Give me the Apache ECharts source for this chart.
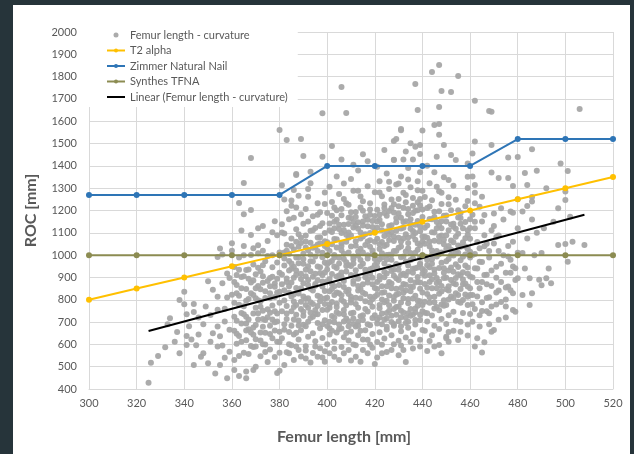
<!DOCTYPE html>
<html>
<head>
<meta charset="utf-8">
<script src="https://cdn.jsdelivr.net/npm/echarts@6/dist/echarts.min.js"></script>
<style>
  html, body { margin: 0; padding: 0; background: #26343a; }
  #panel { position: absolute; left: 13px; top: 5px; width: 617px; height: 449px; background: #fff; }
  #chart { position: absolute; left: 0; top: 0; width: 634px; height: 454px; }
</style>
</head>
<body>
<div id="panel"></div>
<div id="chart"></div>
<script>
// nail models, one value per femur length
const femurLength = [300, 320, 340, 360, 380, 400, 420, 440, 460, 480, 500, 520]
const t2Alpha = [800, 850, 900, 950, 1000, 1050, 1100, 1150, 1200, 1250, 1300, 1350]
const zimmerNail = [1270, 1270, 1270, 1270, 1270, 1400, 1400, 1400, 1400, 1520, 1520, 1520]
const synthesTfna = [1000, 1000, 1000, 1000, 1000, 1000, 1000, 1000, 1000, 1000, 1000, 1000]

// linear trend (ends)
const trendLength = [325, 508]
const trendRoc = [660, 1181]

// measured femurs [length, curvature]
const scatterPoints = [
  [325,428],[326,518],[329,548],[332,587],[334,717],[336,612],[338,799],[340,836],[340,780],[341,735],[344,781],[344,745],[341,637],[343,622],[346,644],[341,597],[344,508],[348,560],[347,545],[350,515],[353,470],[355,508],[354,590],[355,636],[354,680],[351,732],[354,755],[357,702],[354,814],[356,874],[358,918],[359,897],[358,448],[355,1030],[354,992],[333,690],[337,655],[348,690],[351,612],[346,720],[352,845],[349,770],[357,760],[357,540],[352,650],[356,595],[358,810],[342,681],[359,665],[356,1003],[350,883],[338,560],[345,596],
  [361,485],[361,530],[359,567],[363,458],[366,448],[366,478],[369,485],[370,500],[360,1020],[360,1053],[368,1090],[363,1234],[368,1202],[365,1323],[368,1435],
  [362,603],[363,637],[362,706],[364,741],[361,787],[363,818],[362,866],[364,902],[361,947],[363,989],
  [365,562],[366,619],[367,668],[366,724],[365,771],[367,803],[366,848],[368,877],[366,933],[365,1041],
  [368,593],[369,643],[370,687],[369,738],[370,764],[369,821],[371,862],[370,914],[369,958],[371,1008],
  [372,547],[373,601],[372,653],[374,709],[373,751],[372,793],[374,838],[373,876],[372,927],[374,972],[373,1131],
  [375,521],[376,577],[377,628],[376,683],[375,722],[377,774],[376,807],[378,858],[376,898],[377,946],[375,1063],
  [379,472],[378,543],[379,612],[380,657],[379,703],[378,748],[380,787],[379,832],[378,873],[380,921],[379,967],[380,1012],[378,1152],
  [361,661],[364,693],[367,557],[370,623],[373,679],[376,742],[371,712],[374,652],[369,588],[362,911],[377,1102],[365,1183],[371,1044],[375,996],[368,1001],[366,662],[372,769],[378,699],[374,566],[360,822],[376,861],[371,798],[363,548],[367,936],[364,1110],[370,852],[373,1020],
  [361,724],[363,778],[365,735],[367,712],[369,676],[371,739],[373,714],[375,757],[377,712],[379,738],[362,829],[364,851],[366,796],[368,829],[370,807],[372,847],[374,808],[376,829],[378,812],[380,836],[361,880],[363,934],[365,905],[367,894],[369,886],[371,943],[373,905],[375,884],[377,903],[379,894],[362,648],[364,612],[366,693],[368,653],[370,590],[372,617],[374,600],[376,646],[378,662],[380,611],[365,1000],[369,1031],[373,955],[377,1000],[379,1089],[371,1120],
  [382,508],[380,482],[386,530],[391,537],[384,560],[388,575],
  [381,627],[382,666],[383,714],[381,749],[382,797],[384,831],[383,879],[381,913],[382,954],[384,1006],[383,1046],[382,1097],[381,1138],[383,1197],[382,1249],
  [385,596],[386,644],[385,684],[387,733],[386,767],[385,815],[387,853],[386,899],[385,939],[387,989],[386,1025],[385,1074],[387,1116],[386,1168],[385,1221],[386,1292],
  [388,622],[389,663],[388,707],[390,746],[389,791],[388,828],[390,874],[389,916],[388,964],[390,1006],[389,1054],[388,1094],[390,1141],[389,1183],[388,1266],
  [391,592],[392,634],[391,681],[393,718],[392,764],[391,803],[393,849],[392,888],[391,934],[393,973],[392,1022],[391,1061],[393,1109],[392,1151],[391,1207],[393,1322],
  [394,561],[395,614],[394,650],[396,696],[395,736],[394,781],[396,818],[395,863],[394,903],[396,949],[395,994],[394,1033],[396,1079],[395,1122],[394,1174],[396,1233],
  [397,583],[398,629],[397,672],[399,708],[398,754],[397,793],[399,839],[398,882],[397,920],[399,967],[398,1011],[397,1053],[399,1099],[398,1143],[397,1192],[399,1281],
  [380,562],[384,601],[387,652],[390,688],[393,743],[396,772],[399,806],[383,738],[386,792],[389,851],[392,807],[395,871],[398,911],[381,869],[384,931],[387,912],[390,961],[393,1002],[396,1048],[399,1062],[382,1012],[385,962],[388,1038],[391,1088],[394,1112],[397,1131],[389,546],[393,519],[398,541],[384,1161],[387,1214],[392,1262],[396,1181],[381,1101],[399,1229],
  [382,690],[384,655],[386,712],[388,685],[390,728],[392,701],[394,724],[396,735],[398,690],[383,772],[385,748],[387,777],[389,758],[391,776],[393,789],[395,754],[397,813],[399,781],[382,843],[384,860],[386,823],[388,846],[390,815],[392,866],[394,842],[396,887],[398,859],[383,895],[385,877],[387,931],[389,893],[391,905],[393,928],[395,917],[397,946],[399,922],[382,985],[384,974],[386,948],[388,991],[390,983],[392,950],[394,971],[396,1018],[398,990],[383,1020],[385,1041],[387,1060],[389,1078],[391,1034],[393,1056],[395,1038],[397,1080],[399,1041],
  [380,1561],[383,1516],[389,1520],[390,1444],[387,1364],[392,1296],[398,1636],[393,1374],[387,1359],[398,1441],[381,1313],[385,1245],
  [399,522],[412,545],[414,522],[401,560],[405,530],[409,575],[417,560],[420,512],
  [383,565],[387,590],[391,572],[395,590],[399,569],[403,580],[407,560],[411,600],[415,575],[419,585],[423,598],[427,575],[431,595],[435,612],[439,590],[443,615],[447,597],[451,655],[455,620],[459,640],[403,545],[410,528],[423,560],[432,575],[396,545],
  [400,601],[401,644],[400,682],[402,727],[401,764],[400,809],[402,848],[401,893],[400,936],[402,974],[401,1019],[400,1058],[402,1104],[401,1142],[400,1189],[402,1238],[401,1306],
  [403,613],[404,653],[403,699],[405,737],[404,782],[403,821],[405,866],[404,904],[403,949],[405,988],[404,1034],[403,1072],[405,1117],[404,1158],[403,1213],[405,1274],[404,1352],
  [406,588],[407,632],[406,671],[408,716],[407,754],[406,799],[408,838],[407,884],[406,922],[408,968],[407,1006],[406,1052],[408,1091],[407,1136],[406,1179],[408,1232],[407,1321],
  [409,617],[410,658],[409,704],[411,742],[410,788],[409,826],[411,872],[410,911],[409,956],[411,994],[410,1039],[409,1078],[411,1124],[410,1166],[409,1226],[411,1288],
  [412,596],[413,641],[412,680],[414,726],[413,764],[412,809],[414,848],[413,894],[412,932],[414,978],[413,1016],[412,1062],[414,1101],[413,1147],[412,1193],[414,1263],[413,1379],
  [415,622],[416,663],[415,709],[417,747],[416,793],[415,831],[417,877],[416,915],[415,961],[417,999],[416,1045],[415,1083],[417,1129],[416,1174],[415,1241],[417,1309],
  [418,599],[419,647],[418,686],[420,731],[419,769],[418,814],[420,853],[419,899],[418,937],[420,983],[419,1021],[418,1067],[420,1106],[419,1153],[418,1204],[420,1282],
  [401,701],[404,744],[407,791],[410,813],[413,862],[416,901],[419,941],[402,871],[405,909],[408,951],[411,981],[414,1029],[417,1061],[400,959],[403,1001],[406,1041],[409,1101],[412,1132],[415,1151],[418,1181],[401,779],[404,832],[407,702],[410,739],[413,701],[416,758],[419,802],[402,661],[405,689],[408,651],[411,691],[414,661],[417,621],[403,1121],[406,1099],[409,1139],[412,1171],[415,1199],[418,1099],[404,1201],[407,1251],[410,1341],[413,1289],
  [401,672],[403,720],[405,668],[407,735],[409,681],[411,716],[413,683],[415,731],[417,690],[419,718],[400,755],[402,790],[404,768],[406,820],[408,775],[410,800],[412,781],[414,807],[416,826],[418,788],[420,815],[401,838],[403,861],[405,829],[407,857],[409,845],[411,884],[413,841],[415,870],[417,893],[419,869],[400,883],[402,915],[404,942],[406,903],[408,927],[410,951],[412,911],[414,950],[416,935],[418,916],[420,956],[401,968],[403,989],[405,962],[407,983],[409,1012],[411,963],[413,997],[415,1012],[417,985],[419,1004],[400,1032],[402,1049],[404,1071],[406,1022],[408,1060],[410,1088],[412,1042],[414,1075],[416,1093],[418,1038],[420,1060],[401,1112],[403,1150],[405,1136],[407,1112],[409,1168],[411,1149],[413,1118],[415,1133],[417,1159],[419,1126],[402,1177],[406,1207],[410,1192],[414,1213],[418,1233],[420,1175],
  [406,1754],[408,1637],[402,1489],[406,1429],[415,1452],[411,1405],[417,1421],
  [421,541],[425,566],[430,551],[436,581],[428,601],[433,521],
  [421,611],[422,654],[421,693],[423,738],[422,776],[421,822],[423,861],[422,906],[421,944],[423,989],[422,1028],[421,1073],[423,1112],[422,1159],[421,1203],[423,1264],[422,1331],[421,1396],
  [424,626],[425,667],[424,712],[426,751],[425,796],[424,834],[426,879],[425,918],[424,963],[426,1002],[425,1047],[424,1086],[426,1131],[425,1177],[424,1227],[426,1296],[425,1366],
  [427,641],[428,683],[427,728],[429,767],[428,812],[427,851],[429,896],[428,934],[427,979],[429,1018],[428,1063],[427,1102],[429,1147],[428,1191],[427,1249],[429,1317],[428,1427],
  [430,616],[431,659],[430,704],[432,743],[431,788],[430,827],[432,871],[431,911],[430,956],[432,994],[431,1039],[430,1078],[432,1123],[431,1167],[430,1219],[432,1279],[431,1352],
  [433,631],[434,674],[433,719],[435,758],[434,803],[433,842],[435,887],[434,926],[433,971],[435,1009],[434,1054],[433,1093],[435,1138],[434,1183],[433,1237],[435,1304],[434,1391],
  [436,646],[437,689],[436,734],[438,773],[437,818],[436,857],[438,902],[437,941],[436,986],[438,1024],[437,1069],[436,1108],[438,1153],[437,1199],[436,1256],[438,1331],
  [439,621],[440,664],[439,709],[440,748],[439,793],[440,832],[439,877],[440,916],[439,961],[440,999],[439,1044],[440,1083],[439,1128],[440,1171],[439,1223],[440,1289],[439,1371],
  [422,721],[425,741],[428,759],[431,722],[434,739],[437,761],[423,801],[426,819],[429,849],[432,831],[435,859],[438,881],[421,879],[424,901],[427,929],[430,889],[433,909],[436,939],[439,958],[422,981],[425,1001],[428,1019],[431,1061],[434,1079],[437,1099],[423,1059],[426,1091],[429,1109],[432,1149],[435,1161],[438,1201],[421,1151],[424,1189],[427,1211],[430,1251],[433,1269],[436,1221],[439,1251],[425,679],[428,691],[431,681],[434,701],[437,709],[422,1281],[426,1329],[430,1321],[434,1339],[438,1291],
  [421,711],[423,690],[425,716],[427,700],[429,733],[431,751],[433,696],[435,728],[437,744],[439,733],[422,762],[424,789],[426,775],[428,795],[430,770],[432,807],[434,784],[436,806],[438,797],[440,776],[421,848],[423,831],[425,861],[427,873],[429,822],[431,853],[433,867],[435,838],[437,877],[439,849],[422,891],[424,925],[426,948],[428,908],[430,934],[432,917],[434,953],[436,921],[438,944],[440,938],[421,967],[423,1008],[425,980],[427,1003],[429,960],[431,991],[433,1016],[435,978],[437,1011],[439,988],[422,1049],[424,1041],[426,1068],[428,1083],[430,1033],[432,1074],[434,1031],[436,1086],[438,1052],[440,1061],[421,1123],[423,1138],[425,1107],[427,1134],[429,1166],[431,1119],[433,1152],[435,1118],[437,1136],[439,1107],[422,1182],[424,1211],[426,1198],[428,1228],[430,1187],[432,1212],[434,1207],[436,1189],[438,1237],[440,1205],
  [431,1560],[428,1511],[433,1464],[436,1429],[432,1429],[428,1426],[437,1486],[437,1767],[438,1650],[440,1558],[439,1493],[439,1453],[431,1565],[435,1501],[424,1471],[429,1521],
  [450,634],[451,612],[450,627],[456,657],[445,590],[442,570],[448,560],
  [441,661],[442,703],[441,742],[443,787],[442,826],[441,871],[443,910],[442,955],[441,994],[443,1039],[442,1078],[441,1123],[443,1162],[442,1211],[441,1261],[443,1322],[442,1401],
  [444,641],[445,684],[444,729],[446,768],[445,813],[444,852],[446,897],[445,936],[444,981],[446,1019],[445,1064],[444,1103],[446,1148],[445,1194],[444,1246],[446,1306],[445,1371],
  [447,669],[448,714],[447,753],[449,798],[448,837],[447,882],[449,921],[448,966],[447,1004],[449,1049],[448,1088],[447,1133],[449,1177],[448,1229],[447,1286],[449,1349],
  [450,691],[451,731],[450,776],[452,815],[451,860],[450,899],[452,944],[451,983],[450,1028],[452,1066],[451,1111],[450,1151],[452,1201],[451,1259],
  [453,661],[454,706],[453,746],[455,791],[454,829],[453,874],[455,914],[454,959],[453,998],[455,1043],[454,1082],[453,1127],[455,1169],[454,1248],[453,1311],
  [456,701],[457,741],[456,786],[458,824],[457,869],[456,909],[458,954],[457,993],[456,1038],[458,1076],[457,1121],[456,1166],[458,1219],[459,1301],[459,1351],
  [459,689],[460,736],[459,776],[460,821],[459,859],[460,904],[459,944],[460,989],[459,1028],[460,1073],[459,1112],[460,1161],
  [442,739],[445,761],[448,779],[451,801],[454,869],[457,891],[443,879],[446,851],[449,941],[452,1001],[455,1011],[458,1039],[441,1051],[444,1021],[447,1061],[450,1089],[453,1141],[456,1189],[445,1171],[448,1121],[441,929],[444,961],
  [441,791],[443,811],[445,789],[447,827],[449,773],[451,841],[453,808],[455,821],[457,799],[459,813],[442,854],[444,892],[446,875],[448,862],[450,847],[452,888],[454,897],[456,848],[458,873],[460,851],[441,908],[443,946],[445,918],[447,942],[449,897],[451,931],[453,926],[455,947],[457,923],[459,917],[442,978],[444,1003],[446,994],[448,1012],[450,973],[452,1024],[454,1013],[456,977],[458,1003],[460,1015],[441,1082],[443,1061],[445,1101],[447,1083],[449,1069],[451,1041],[453,1058],[455,1096],[457,1058],[459,1091],[442,1133],[444,1161],[446,1121],[448,1152],[450,1178],[452,1137],[454,1118],[456,1141],[458,1148],[460,1122],[443,1218],[447,1197],[451,1228],[455,1201],[459,1243],
  [447,1852],[444,1821],[455,1803],[448,1736],[452,1731],[447,1664],[447,1588],[445,1583],[447,1539],[449,1494],[452,1449],[454,1426],[451,1337],[448,1280],[446,1441],
  [465,564],[463,627],[469,657],[468,690],[470,664],[462,590],[466,610],[475,720],[479,746],[478,754],
  [461,701],[462,759],[461,821],[463,879],[462,941],[461,1001],[463,1059],[462,1121],[461,1181],[462,1232],[462,1280],[462,1314],[461,1352],[461,1456],[459,1411],
  [464,731],[465,789],[464,851],[466,911],[465,969],[464,1031],[466,1089],[465,1151],[464,1217],[465,1262],[462,1509],
  [467,749],[468,811],[467,869],[469,931],[468,989],[467,1051],[469,1111],[470,1187],[469,1370],[469,1494],[469,1643],[462,1692],[468,1646],
  [471,779],[472,841],[471,899],[473,961],[472,1019],[471,1081],[473,1210],[472,1346],
  [475,801],[476,859],[475,921],[477,979],[476,1041],[477,1196],[476,1346],[476,1438],
  [478,829],[479,889],[478,949],[480,1011],[478,1310],[480,1250],[480,1440],[480,896],
  [461,900],[463,940],[465,880],[467,912],[469,862],[471,948],[473,880],[475,855],[477,921],[479,941],[462,1005],[464,970],[466,1040],[468,1018],[470,1052],[472,1088],[474,1000],[476,994],[478,1060],[480,1120],[461,780],[463,815],[465,750],[467,808],[469,770],[471,833],[473,790],[475,770],[477,843],[462,1150],[466,1180],[470,1130],[474,1160],[478,1190],[464,680],[468,740],[472,710],
  [482,821],[485,776],[486,829],[484,1075],[485,896],[489,890],[490,865],[492,896],[494,874],[501,970],[497,1045],[503,1060],[508,1045],[500,1050],
  [482,1196],[484,1220],[486,1260],[486,1240],[484,1314],[488,1378],[483,1368],[486,1474],[492,1300],[498,1411],[501,1377],[500,1285],[500,1247],[502,1172],[506,1655],
  [483,940],[487,1000],[491,1120],[495,1150],[488,1100],[493,940],[486,1160],[497,1210],[490,1010],[482,1010]
]

const font = 'Lato, "Open Sans", sans-serif'
const grey = '#595959'
const pair = (xs, ys) => xs.map((x, i) => [x, ys[i]])

const lineSeries = (name, values, color) => ({
  name: name,
  type: 'line',
  data: pair(femurLength, values),
  symbol: 'circle',
  symbolSize: 6,
  itemStyle: { color: color },
  lineStyle: { color: color, width: 2 },
})

const chart = echarts.init(document.getElementById('chart'))
chart.setOption({
  animation: false,
  grid: { left: 89, right: 21, top: 32, bottom: 65 },
  legend: {
    orient: 'vertical',
    left: 85,
    top: 24,
    backgroundColor: '#fff',
    padding: [4, 10, 3, 21],
    itemWidth: 18,
    itemHeight: 5,
    itemGap: 1.5,
    textStyle: { color: grey, fontFamily: font, fontSize: 11, lineHeight: 14 },
    data: [
      { name: 'Femur length - curvature', icon: 'circle' },
      'T2 alpha',
      'Zimmer Natural Nail',
      'Synthes TFNA',
      { name: 'Linear (Femur length - curvature)', itemStyle: { opacity: 0 } },
    ],
  },
  xAxis: {
    type: 'value',
    min: 300,
    max: 520,
    interval: 20,
    name: 'Femur length [mm]',
    nameLocation: 'middle',
    nameGap: 40,
    nameTextStyle: { color: grey, fontFamily: font, fontSize: 16, fontWeight: 'bold', padding: [0, 14, 0, 0] },
    axisLine: { show: true, lineStyle: { color: '#D9D9D9' } },
    axisTick: { show: false },
    axisLabel: { color: grey, fontFamily: font, fontSize: 11, margin: 9 },
    splitLine: { show: true, lineStyle: { color: '#D9D9D9' } },
  },
  yAxis: {
    type: 'value',
    min: 400,
    max: 2000,
    interval: 100,
    name: 'ROC [mm]',
    nameLocation: 'middle',
    nameGap: 50,
    nameTextStyle: { color: grey, fontFamily: font, fontSize: 16, fontWeight: 'bold' },
    axisLine: { show: false },
    axisTick: { show: false },
    axisLabel: { color: grey, fontFamily: font, fontSize: 11, margin: 12, formatter: (v) => String(v) },
    splitLine: { show: true, lineStyle: { color: '#D9D9D9' } },
  },
  series: [
    {
      name: 'Femur length - curvature',
      type: 'scatter',
      data: scatterPoints,
      symbolSize: 6,
      itemStyle: { color: '#A6A6A6', opacity: 0.95 },
    },
    lineSeries('T2 alpha', t2Alpha, '#FFC000'),
    lineSeries('Zimmer Natural Nail', zimmerNail, '#2E75B6'),
    lineSeries('Synthes TFNA', synthesTfna, '#8C8C52'),
    {
      name: 'Linear (Femur length - curvature)',
      type: 'line',
      data: pair(trendLength, trendRoc),
      symbol: 'none',
      itemStyle: { color: '#000' },
      lineStyle: { color: '#000', width: 2 },
    },
  ],
})
</script>
</body>
</html>
